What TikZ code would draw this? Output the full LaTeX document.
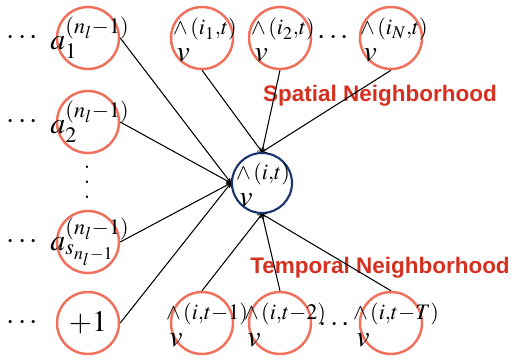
\documentclass[tikz,border=0pt]{standalone}
\usepackage{amsmath}
\usepackage{mathptmx}
\usepackage{fontspec}
\newfontfamily\labfont{Liberation Sans}
\definecolor{nbred}{RGB}{240,112,92}
\definecolor{ctrblue}{RGB}{28,52,112}
\definecolor{labred}{RGB}{214,48,32}
\newcommand{\hv}[1]{\begin{tabular}{@{}l@{}}$\scriptstyle\wedge\,#1$\\[-5pt]$\,v$\end{tabular}}
\begin{document}
\begin{tikzpicture}[x=0.02cm,y=-0.02cm,
  nb/.style={draw=nbred,line width=1.4pt,circle,minimum size=1.24cm,inner sep=0pt},
  ctr/.style={draw=ctrblue,line width=1.2pt,circle,minimum size=1.2cm,inner sep=0pt},
  tx/.style={font=\fontsize{17}{20}\selectfont,inner sep=0pt},
  lab/.style={font=\labfont\bfseries\fontsize{12.8}{15}\selectfont,text=labred,inner sep=0pt},
  arr/.style={->,semithick}]
\useasboundingbox (0,0) rectangle (514,362);
% input layer (left)
\node[nb] (a1) at (88,38) {};
\node[nb] (a2) at (88,122) {};
\node[nb] (as) at (88,242) {};
\node[nb] (one) at (88,323) {};
\node[tx] (a1t) at (90,38) {$a_1^{(n_l-1)}$};
\node[tx] (a2t) at (90,122) {$a_2^{(n_l-1)}$};
\node[tx] (ast) at (90,242) {$a_{s_{n_l-1}}^{(n_l-1)}$};
\node[tx] (onet) at (one) {$+1$};
\node[tx] (dl1) at (24,38) {$\cdots$};
\node[tx] (dl2) at (24,122) {$\cdots$};
\node[tx] (dl3) at (24,242) {$\cdots$};
\node[tx] (dl4) at (24,323) {$\cdots$};
\node[tx,align=center,font=\fontsize{17}{8.5}\selectfont] (dv) at (87,182) {.\\.\\.};
% spatial neighbours (top)
\node[nb] (s1) at (202,38) {};
\node[nb] (s2) at (280,38) {};
\node[nb] (sN) at (391,38) {};
\node[tx] (s1t) at (205,41) {\hv{(i_1,t)}};
\node[tx] (s2t) at (283,41) {\hv{(i_2,t)}};
\node[tx] (sNt) at (394,41) {\hv{(i_N,t)}};
\node[tx] (ds) at (335,38) {$\cdots$};
% temporal neighbours (bottom)
\node[nb] (t1) at (202,323) {};
\node[nb] (t2) at (280,323) {};
\node[nb] (tT) at (391,323) {};
\node[tx] (t1t) at (207,326) {\hv{(i,t-1)}};
\node[tx] (t2t) at (285,326) {\hv{(i,t-2)}};
\node[tx] (tTt) at (396,326) {\hv{(i,t-T)}};
\node[tx] (dt) at (336,325) {$\cdots$};
% output node
\node[ctr] (c) at (262,183) {};
\node[tx] (ct) at (263,186) {\hv{(i,t)}};
\node[lab] (spat) at (380,96) {Spatial Neighborhood};
\node[lab] (temp) at (380,268) {Temporal Neighborhood};
\foreach \n in {a1,a2,as,one} \draw[arr] (\n.east) -- (c.west);
\foreach \n in {s1,s2,sN} \draw[arr] (\n.south) -- (c.north);
\foreach \n in {t1,t2,tT} \draw[arr] (\n.north) -- (c.south);
\end{tikzpicture}
\end{document}
